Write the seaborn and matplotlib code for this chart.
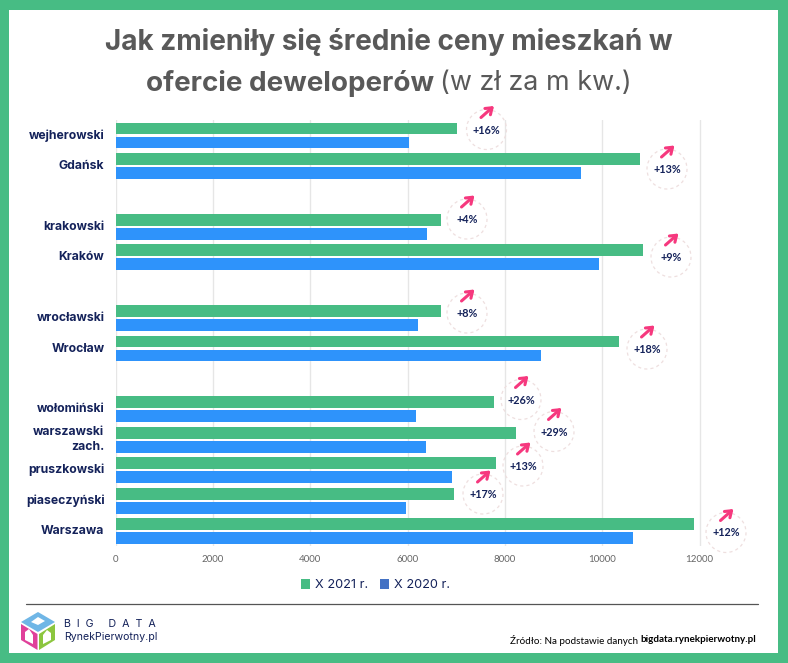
import matplotlib
matplotlib.use("Agg")
import matplotlib.pyplot as plt
import pandas as pd
import seaborn as sns
from matplotlib.patches import Circle, Polygon, Rectangle

categories = ["wejherowski", "Gdańsk", " ", "krakowski", "Kraków", "  ",
              "wrocławski", "Wrocław", "   ", "wołomiński", "warszawski\nzach.",
              "pruszkowski", "piaseczyński", "Warszawa"]
values_2021 = [7017, 10767, None, 6688, 10830, None, 6688, 10345, None,
               7777, 8229, 7818, 6965, 11876]
values_2020 = [6040, 9565, None, 6400, 9924, None, 6215, 8742, None,
               6174, 6380, 6914, 5969, 10623]
series_names = ["X 2021 r.", "X 2020 r."]
xticks = [0, 2000, 4000, 6000, 8000, 10000, 12000]
change_labels = ["+16%", "+13%", "+4%", "+9%", "+8%", "+18%", "+26%", "+29%", "+13%", "+17%", "+12%"]
badge_centers = [(486.5, 129.5), (667, 169), (467, 219), (671, 257), (467, 313), (647, 349),
                 (521, 399.5), (554, 431.5), (523, 466), (483, 494), (726, 532.5)]

W, H = 788, 663
GREEN, BLUE, NAVY, GREY = "#47BC84", "#2E93FB", "#14225A", "#595959"
sns.set_theme(style="white")
plt.rcParams["font.family"] = ["Lato", "DejaVu Sans"]

fig = plt.figure(figsize=(W / 100, H / 100), dpi=100, facecolor="white")
ax = fig.add_axes([115.5 / W, 1 - 546.3 / H, (772 - 115.5) / W, 426 / H])

df = pd.DataFrame({"cat": categories, series_names[0]: values_2021, series_names[1]: values_2020})
long = df.melt(id_vars="cat", var_name="series", value_name="value")
sns.barplot(data=long, y="cat", x="value", hue="series", order=categories, hue_order=series_names,
            palette=[GREEN, BLUE], width=0.92, gap=0.16, orient="h", legend=False, ax=ax, zorder=3,
            estimator="sum", errorbar=None, saturation=1, linewidth=0)
ax.set_xlim(0, (772 - 115.5) / 0.04867)
ax.set_ylim(13.5, -0.5)
ax.set_xlabel("")
ax.set_ylabel("")
ax.set_xticks(xticks)
ax.set_xticklabels([str(t) for t in xticks], fontsize=7, color="#666666", family="Lato")
ax.tick_params(axis="x", length=0, pad=6)
ax.tick_params(axis="y", length=0, pad=8)
ax.set_yticks(range(len(categories)))
ax.set_yticklabels(categories, fontsize=8.8, fontweight="bold", color=NAVY, family="Inter", linespacing=1.34,
                   va="center")
ax.grid(axis="x", color="#E6E6E6", lw=1, zorder=0)
ax.set_axisbelow(True)
sns.despine(ax=ax, left=True, bottom=True, right=True, top=True)

# overlay in pixel coordinates for the decoration
ov = fig.add_axes([0, 0, 1, 1], facecolor="none")
ov.set_xlim(0, W)
ov.set_ylim(H, 0)
ov.axis("off")
for r in [(0, 0, W, 9.5), (0, H - 10, W, 10), (0, 0, 9.5, H), (W - 10, 0, 10, H)]:
    ov.add_patch(Rectangle((r[0], r[1]), r[2], r[3], fc=GREEN, ec="none"))

for (cx, cy), lab in zip(badge_centers, change_labels):
    ov.add_patch(Circle((cx, cy), 20, fc="none", ec="#EEDFDF", lw=0.9, ls=(0, (2.5, 2.5)), zorder=4))
    ov.text(cx, cy + 0.5, lab, ha="center", va="center", fontsize=7.8, fontweight="bold", color=NAVY,
            family="Lato", zorder=5)
    ov.annotate("", xy=(cx + 7.5, cy - 23.5), xytext=(cx - 5.5, cy - 12),
                arrowprops=dict(arrowstyle="->,head_length=0.35,head_width=0.25", color="#F6387E", lw=2.2,
                                shrinkA=0, shrinkB=0), zorder=5)

ov.text(388.5, 42.5, "Jak zmieniły się średnie ceny mieszkań w", ha="center", va="center",
        fontsize=20.1, fontweight="bold", color=GREY, family="Inter")
ov.text(146, 83.5, "ofercie deweloperów", ha="left", va="center", fontsize=20, fontweight="bold",
        color=GREY, family="Inter")
ov.text(440, 83.5, "(w zł za m kw.)", ha="left", va="center", fontsize=19.4, color=GREY, family="Inter")

# legend
ov.add_patch(Rectangle((301, 579), 9.5, 9.5, fc=GREEN, ec="none"))
ov.text(315, 584.5, series_names[0], fontsize=9.2, color=NAVY, va="center", family="Inter")
ov.add_patch(Rectangle((380, 579), 9.5, 9.5, fc="#4472C4", ec="none"))
ov.text(394, 584.5, series_names[1], fontsize=9.2, color=NAVY, va="center", family="Inter")

ov.plot([26, 758], [604, 604], color="#555555", lw=0.9)

# logo
ov.add_patch(Polygon([(21, 622), (38, 612), (55, 622), (38, 632)], fc="#6FB6E6", ec="none"))
ov.add_patch(Polygon([(21, 624), (37.5, 634), (37.5, 650), (21, 640)], fc="#E0409A", ec="none"))
ov.add_patch(Polygon([(39, 634), (55, 624), (55, 640), (39, 650)], fc="#8CC63F", ec="none"))
ov.add_patch(Polygon([(25, 640), (25, 632), (29, 629), (33, 635), (33, 644)], fc="white", ec="none"))
ov.add_patch(Polygon([(43, 644), (43, 635), (47, 630), (51, 633), (51, 640)], fc="white", ec="none"))
ov.add_patch(Polygon([(31, 622), (38, 617), (45, 621), (38, 625)], fc="white", ec="none"))

ov.text(64, 624, "B  I  G     D  A  T  A", fontsize=7.7, color=NAVY, va="center", family="Inter")
ov.text(64, 637, "RynekPierwotny.pl", fontsize=7.6, color=NAVY, va="center", family="Inter")
src = ov.text(756, 640, "bigdata.rynekpierwotny.pl", ha="right", va="center", fontsize=7.1, fontweight="bold",
              color="black", family="Lato")
fig.canvas.draw()
bb = src.get_window_extent().transformed(ov.transData.inverted())
ov.text(bb.x0, 640, "Źródło: Na podstawie danych ", ha="right", va="center", fontsize=7.1, color="black",
        family="Lato")

fig.savefig("out.png", dpi=100)
